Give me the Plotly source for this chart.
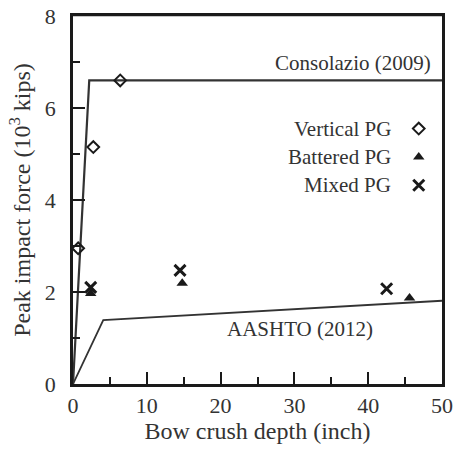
import plotly.graph_objects as go

# Model curves (bow crush depth in inch, force in 10^3 kips)
consolazio_x = [0, 2.2, 50]
consolazio_y = [0, 6.6, 6.6]
aashto_x = [0, 4.1, 50]
aashto_y = [0, 1.39, 1.81]

# Test data
vertical_x = [0.7, 2.75, 6.4]
vertical_y = [2.95, 5.15, 6.6]
battered_x = [2.4, 14.8, 45.6]
battered_y = [1.97, 2.19, 1.87]
mixed_x = [2.4, 14.5, 42.5]
mixed_y = [2.1, 2.47, 2.07]

legend_names = ["Vertical PG", "Battered PG", "Mixed PG"]
legend_symbols = ["diamond-open", "triangle-up", "x-thin-open"]

FONT = "Liberation Serif"
INK = "#1a1a1a"
TXT = "#333333"

fig = go.Figure()
fig.add_trace(go.Scatter(x=consolazio_x, y=consolazio_y, mode="lines",
                         line=dict(color="#333333", width=2.2), showlegend=False))
fig.add_trace(go.Scatter(x=aashto_x, y=aashto_y, mode="lines",
                         line=dict(color="#333333", width=1.8), showlegend=False))
fig.add_trace(go.Scatter(x=vertical_x, y=vertical_y, mode="markers",
                         marker=dict(symbol="diamond-open", size=9, color=INK,
                                     line=dict(width=2, color=INK)), showlegend=False))
fig.add_trace(go.Scatter(x=battered_x, y=battered_y, mode="markers",
                         marker=dict(symbol="triangle-up", size=10, color=INK,
                                     line=dict(width=0)), showlegend=False))
fig.add_trace(go.Scatter(x=mixed_x, y=mixed_y, mode="markers",
                         marker=dict(symbol="x-thin-open", size=11, color=INK,
                                     line=dict(width=3, color=INK)), showlegend=False))

# Legend keys on an overlay axis (0..1), text left of marker
key_y = [0.694, 0.617, 0.540]
for name, sym, ky in zip(legend_names, legend_symbols, key_y):
    mk = dict(symbol=sym, size=9 if sym == "diamond-open" else (10 if sym == "triangle-up" else 11), color=INK,
              line=dict(width=2 if sym == "diamond-open" else (3 if sym == "x-thin-open" else 0), color=INK))
    fig.add_trace(go.Scatter(x=[0.937], y=[ky], mode="markers", marker=mk,
                             xaxis="x2", yaxis="y2", showlegend=False, hoverinfo="skip"))
    fig.add_annotation(x=0.868, y=ky, xref="x2", yref="y2", text=name, showarrow=False,
                       xanchor="right", yanchor="middle",
                       font=dict(family=FONT, size=21, color=TXT))

fig.add_annotation(x=48.8, y=6.98, text="Consolazio (2009)", showarrow=False,
                   xanchor="right", yanchor="middle",
                   font=dict(family=FONT, size=21, color=TXT))
fig.add_annotation(x=30.8, y=1.2, text="AASHTO (2012)", showarrow=False,
                   xanchor="center", yanchor="middle",
                   font=dict(family=FONT, size=21, color=TXT))

# top border of the frame
fig.add_shape(type="line", xref="paper", yref="paper", x0=-0.004, x1=1.004, y0=1.003, y1=1.003,
              line=dict(color=INK, width=2.5), layer="above")

axis_common = dict(showgrid=False, zeroline=False, showline=True, linecolor=INK,
                   linewidth=2.5, mirror=True, ticks="inside", ticklen=12,
                   tickwidth=1.5, tickcolor=INK, automargin=False,
                   tickfont=dict(family=FONT, size=22, color=TXT))

fig.update_layout(
    width=453, height=458,
    margin=dict(l=73, r=11, t=16, b=74),
    paper_bgcolor="white", plot_bgcolor="white",
    xaxis=dict(range=[0, 50], dtick=10, tick0=0,
               minor=dict(dtick=5, ticks="inside", ticklen=7, tickwidth=1.5, tickcolor=INK),
               title=dict(text="Bow crush depth (inch)", font=dict(family=FONT, size=24, color=TXT),
                          standoff=4),
               **axis_common),
    yaxis=dict(range=[0, 8], dtick=2, tick0=0, ticklabelstandoff=10,
               minor=dict(dtick=1, ticks="inside", ticklen=7, tickwidth=1.5, tickcolor=INK),
               title=dict(text="Peak impact force (10<sup>3</sup> kips)",
                          font=dict(family=FONT, size=24, color=TXT), standoff=8),
               **axis_common),
    xaxis2=dict(range=[0, 1], overlaying="x", visible=False, anchor="y2"),
    yaxis2=dict(range=[0, 1], overlaying="y", visible=False, anchor="x2"),
    showlegend=False,
)

# remove the default 8px page margin so the figure fills the window exactly
fig.write_html("out.html", config={"displayModeBar": False},
               post_script="document.body.style.margin='0';")
